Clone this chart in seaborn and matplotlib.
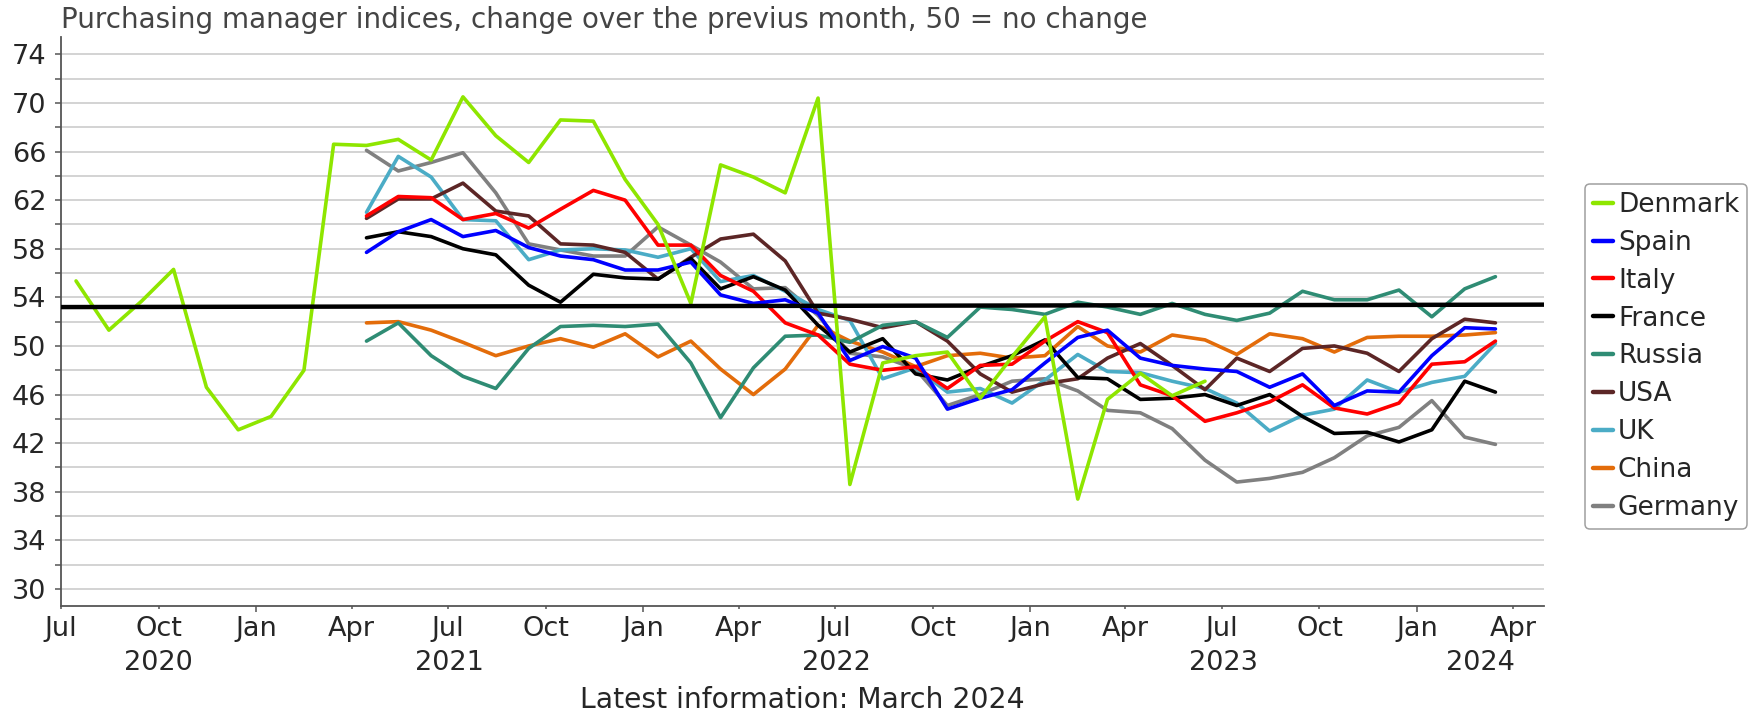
import pandas as pd
import seaborn as sns
import matplotlib.pyplot as plt
import matplotlib.dates as mdates
import matplotlib.transforms as mtrans

# --- data (monthly PMI readings) ---
countries = ["Denmark", "Spain", "Italy", "France", "Russia", "USA", "UK", "China", "Germany"]
colors = {
    "Denmark": "#8ee600",
    "Spain": "#0000ff",
    "Italy": "#ff0000",
    "France": "#000000",
    "Russia": "#2f8c74",
    "USA": "#5c2626",
    "UK": "#4bacc6",
    "China": "#e36c0a",
    "Germany": "#808080",
}

# Denmark: Jul 2020 - Jun 2023
denmark = [55.35, 51.3, 53.7, 56.3, 46.6, 43.1,
           44.2, 48.0, 66.6, 66.5, 67.0, 65.3, 70.5, 67.3, 65.1, 68.6, 68.5, 63.7,
           60.0, 53.5, 64.9, 63.9, 62.6, 70.4, 38.6, 48.6, 49.2, 49.5, 45.7, 49.1,
           52.4, 37.4, 45.6, 47.75, 45.9, 47.1]

# the rest: Apr 2021 - Mar 2024
spain = [57.7, 59.4, 60.4, 59.0, 59.5, 58.1, 57.4, 57.1, 56.25,
         56.25, 56.9, 54.2, 53.5, 53.8, 52.7, 48.8, 49.95, 49.0, 44.8, 45.7, 46.4,
         48.6, 50.7, 51.3, 49.0, 48.4, 48.1, 47.9, 46.6, 47.7, 45.1, 46.3, 46.2,
         49.2, 51.5, 51.4]
italy = [60.7, 62.3, 62.2, 60.4, 60.9, 59.7, 61.25, 62.8, 62.0,
         58.3, 58.3, 55.8, 54.5, 51.9, 50.9, 48.5, 48.0, 48.3, 46.5, 48.4, 48.5,
         50.4, 52.0, 51.1, 46.8, 45.9, 43.8, 44.5, 45.4, 46.8, 44.9, 44.4, 45.3,
         48.5, 48.7, 50.4]
france = [58.9, 59.4, 59.0, 58.0, 57.5, 55.0, 53.6, 55.9, 55.6,
          55.5, 57.2, 54.7, 55.7, 54.6, 51.7, 49.5, 50.6, 47.7, 47.2, 48.3, 49.2,
          50.5, 47.4, 47.3, 45.6, 45.7, 46.0, 45.1, 46.0, 44.2, 42.8, 42.9, 42.1,
          43.1, 47.1, 46.2]
russia = [50.4, 51.9, 49.2, 47.5, 46.5, 49.8, 51.6, 51.7, 51.6,
          51.8, 48.6, 44.1, 48.2, 50.8, 50.9, 50.3, 51.7, 52.0, 50.7, 53.2, 53.0,
          52.6, 53.6, 53.2, 52.6, 53.5, 52.6, 52.1, 52.7, 54.5, 53.8, 53.8, 54.6,
          52.4, 54.7, 55.7]
usa = [60.5, 62.1, 62.1, 63.4, 61.1, 60.7, 58.4, 58.3, 57.7,
       55.5, 57.3, 58.8, 59.2, 57.0, 52.7, 52.2, 51.5, 52.0, 50.4, 47.7, 46.2,
       46.9, 47.3, 49.0, 50.2, 48.4, 46.4, 49.0, 47.9, 49.8, 50.0, 49.4, 47.9,
       50.6, 52.2, 51.9]
uk = [61.0, 65.6, 63.9, 60.4, 60.3, 57.1, 57.9, 58.0, 57.9,
      57.3, 58.0, 55.3, 55.8, 54.5, 53.0, 52.1, 47.3, 48.2, 46.2, 46.5, 45.3,
      47.2, 49.3, 47.9, 47.8, 47.1, 46.5, 45.3, 43.0, 44.3, 44.8, 47.2, 46.2,
      47.0, 47.5, 50.2]
china = [51.9, 52.0, 51.3, 50.3, 49.2, 50.0, 50.6, 49.9, 51.0,
         49.1, 50.4, 48.1, 46.0, 48.1, 51.7, 50.4, 49.5, 48.3, 49.2, 49.4, 49.0,
         49.2, 51.6, 50.0, 49.5, 50.9, 50.5, 49.3, 51.0, 50.6, 49.5, 50.7, 50.8,
         50.8, 50.9, 51.1]
germany = [66.1, 64.4, 65.1, 65.9, 62.6, 58.4, 57.9, 57.4, 57.4,
           59.8, 58.3, 56.9, 54.7, 54.8, 52.5, 49.4, 49.1, 48.1, 45.1, 46.0, 47.1,
           47.3, 46.3, 44.7, 44.5, 43.2, 40.6, 38.8, 39.1, 39.6, 40.8, 42.6, 43.3,
           45.5, 42.5, 41.9]

ref_line = [53.2, 53.4]  # black reference line, left end / right end
years = ["2020", "2021", "2022", "2023", "2024"]

series = {"Denmark": denmark, "Spain": spain, "Italy": italy, "France": france,
          "Russia": russia, "USA": usa, "UK": uk, "China": china, "Germany": germany}
starts = {c: "2021-04-01" for c in countries}
starts["Denmark"] = "2020-07-01"

frames = []
for c in countries:
    vals = series[c]
    dates = pd.date_range(starts[c], periods=len(vals), freq="MS") + pd.Timedelta(days=14)
    frames.append(pd.DataFrame({"date": dates, "value": vals, "country": c}))
df = pd.concat(frames, ignore_index=True)

# --- plot ---
sns.set_theme(style="white")
plt.rcParams["font.family"] = ["DejaVu Sans"]

W, H = 1757, 714
fig = plt.figure(figsize=(W / 100, H / 100), dpi=100)
ax = fig.add_axes([61.2 / W, 1 - 606 / H, (1544.2 - 61.2) / W, (606 - 36.7) / H])

xmin, xmax = pd.Timestamp("2020-07-01"), pd.Timestamp("2024-04-30")

sns.lineplot(data=df, x="date", y="value", hue="country", hue_order=countries[::-1],
             palette=colors, linewidth=2.6, estimator=None, ax=ax)
ax.plot([xmin, xmax], ref_line, color="black", linewidth=3.2, zorder=5)

ax.set_xlim(xmin, xmax)
ax.set_ylim(28.6, 75.45)
ax.set_xlabel("")
ax.set_ylabel("")

ax.set_yticks(range(30, 75, 4))
ax.set_yticks(range(32, 73, 4), minor=True)
ax.grid(axis="y", which="both", color="#c8c8c8", linewidth=1.1)
ax.set_axisbelow(True)
ax.tick_params(axis="y", which="both", length=4.6, width=1.1, color="#555555",
               pad=6, labelsize=19.5, left=True)

ax.xaxis.set_major_locator(mdates.MonthLocator(bymonth=[1]))
ax.xaxis.set_minor_locator(mdates.MonthLocator(bymonth=[4, 7, 10]))
ax.xaxis.set_major_formatter(mdates.DateFormatter("%b"))
ax.xaxis.set_minor_formatter(mdates.DateFormatter("%b"))
ax.tick_params(axis="x", which="major", length=4.3, width=1.1, color="#555555",
               pad=3, labelsize=19.5, bottom=True)
ax.tick_params(axis="x", which="minor", length=2, width=1.1, color="#555555",
               pad=5.3, labelsize=19.5, bottom=True)

for s in ["top", "right"]:
    ax.spines[s].set_visible(False)
for s in ["left", "bottom"]:
    ax.spines[s].set_color("#555555")
    ax.spines[s].set_linewidth(1.3)

# year labels centred in the visible part of each year
trans = mtrans.blended_transform_factory(ax.transData, fig.transFigure)
for y in years:
    a = max(pd.Timestamp(f"{y}-01-01"), xmin)
    b = min(pd.Timestamp(f"{int(y) + 1}-01-01"), xmax)
    mid = a + (b - a) / 2
    ax.text(mid, 1 - 663.5 / H, y, transform=trans, ha="center", va="center", fontsize=19.5)

# legend in the order of the original
handles, labels = ax.get_legend_handles_labels()
ax.get_legend().remove()
hmap = dict(zip(labels, handles))
leg = fig.legend([hmap[c] for c in countries], countries,
                 loc="upper left", bbox_to_anchor=(1585 / W, 1 - 184 / H),
                 fontsize=19, frameon=True, fancybox=True, borderpad=0.3,
                 handlelength=0.75, handletextpad=0.2, labelspacing=0.45,
                 borderaxespad=0)
leg.get_frame().set_edgecolor("#888888")
leg.get_frame().set_linewidth(1.1)
for ln in leg.get_lines():
    ln.set_linewidth(3.2)

fig.text(61 / W, 1 - 20 / H,
         "Purchasing manager indices, change over the previus month, 50 = no change",
         fontsize=20, color="#444444", ha="left", va="center")
fig.text(802.7 / W, 1 - 700 / H, "Latest information: March 2024",
         fontsize=20.3, ha="center", va="center")

fig.savefig("out.png", dpi=100)
